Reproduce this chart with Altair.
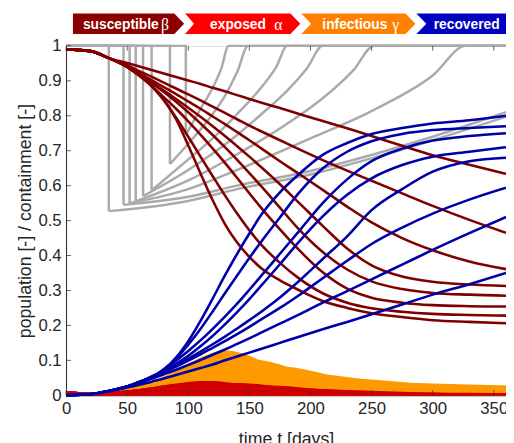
import altair as alt
import pandas as pd

# ---------------- data ----------------
days = [0, 20, 35, 50, 60, 70, 80, 90, 100, 110, 120, 130, 140, 150, 160, 175,
        190, 210, 230, 250, 275, 300, 330, 360]

susceptible = [
    [.99, .985, .965, .951, .941, .931, .921, .911, .901, .891, .88, .87, .859, .848, .837, .822, .806, .785, .764, .742, .714, .687, .66, .634],
    [.99, .985, .965, .945, .928, .912, .895, .878, .861, .844, .826, .808, .79, .772, .755, .73, .705, .673, .643, .614, .578, .542, .502, .465],
    [.99, .985, .965, .94, .921, .902, .882, .862, .841, .82, .798, .776, .753, .73, .706, .67, .635, .588, .54, .495, .45, .415, .383, .361],
    [.99, .985, .965, .94, .917, .895, .872, .848, .823, .797, .77, .742, .713, .683, .652, .604, .553, .485, .42, .372, .34, .325, .317, .313],
    [.99, .985, .965, .94, .915, .893, .868, .84, .81, .778, .745, .71, .674, .636, .597, .537, .477, .41, .36, .326, .304, .293, .288, .285],
    [.99, .985, .965, .94, .915, .885, .853, .82, .784, .746, .706, .665, .622, .578, .535, .475, .418, .352, .305, .279, .265, .258, .255, .254],
    [.99, .985, .965, .94, .915, .885, .845, .795, .74, .683, .627, .572, .52, .472, .43, .379, .336, .292, .265, .249, .239, .233, .23, .228],
    [.99, .985, .965, .94, .915, .885, .845, .79, .715, .635, .558, .49, .437, .396, .363, .329, .302, .27, .25, .235, .224, .215, .21, .206],
]

exposed = [
    [.012, .008, .010, .007, .006, .006, .006, .006, .006, .006, .006, .006, .006, .006, .006, .006, .006, .006, .005, .005, .005, .005, .005, .005],
    [.012, .008, .010, .011, .009, .009, .009, .009, .009, .009, .009, .009, .009, .009, .009, .009, .009, .009, .008, .008, .007, .007, .006, .006],
    [.012, .008, .010, .014, .012, .012, .012, .012, .012, .012, .013, .013, .013, .013, .013, .013, .013, .012, .011, .01, .009, .008, .007, .006],
    [.012, .008, .010, .014, .013, .013, .014, .014, .015, .015, .016, .016, .017, .017, .018, .018, .018, .017, .015, .013, .01, .007, .005, .003],
    [.012, .008, .010, .014, .018, .016, .016, .017, .017, .018, .019, .019, .02, .021, .021, .022, .021, .018, .014, .011, .007, .004, .003, .002],
    [.012, .008, .010, .014, .018, .023, .021, .022, .023, .024, .025, .026, .027, .028, .028, .027, .023, .017, .012, .008, .005, .003, .002, .001],
    [.012, .008, .010, .014, .018, .023, .029, .031, .033, .034, .035, .035, .035, .034, .031, .025, .018, .011, .007, .004, .002, .001, .001, 0],
    [.012, .008, .010, .014, .018, .023, .029, .034, .038, .041, .041, .038, .033, .027, .021, .015, .010, .006, .004, .002, .001, .001, 0, 0],
]

infectious = [
    [.006, .008, .013, .014, .014, .015, .015, .015, .015, .015, .016, .016, .016, .016, .016, .017, .017, .017, .017, .018, .018, .018, .018, .018],
    [.006, .008, .013, .018, .019, .02, .02, .021, .021, .022, .022, .023, .023, .024, .024, .025, .025, .026, .027, .027, .028, .028, .028, .027],
    [.006, .008, .013, .021, .023, .024, .025, .026, .027, .028, .029, .03, .031, .032, .033, .034, .035, .036, .037, .037, .036, .034, .031, .028],
    [.006, .008, .013, .021, .025, .027, .029, .031, .033, .035, .037, .039, .041, .043, .045, .047, .049, .05, .049, .045, .038, .03, .022, .016],
    [.006, .008, .013, .021, .029, .03, .032, .035, .038, .041, .044, .047, .05, .053, .056, .06, .062, .06, .052, .042, .03, .02, .012, .007],
    [.006, .008, .013, .021, .029, .040, .045, .05, .055, .06, .065, .07, .075, .079, .082, .083, .077, .062, .045, .032, .02, .012, .007, .004],
    [.006, .008, .013, .021, .029, .040, .054, .066, .077, .086, .093, .098, .102, .103, .1, .088, .07, .048, .032, .021, .012, .007, .004, .002],
    [.006, .008, .013, .021, .029, .040, .054, .071, .090, .108, .122, .128, .124, .113, .098, .076, .057, .038, .025, .016, .010, .006, .004, .002],
]

recovered = [
    [0, .003, .012, .022, .03, .039, .048, .058, .068, .078, .088, .1, .111, .122, .133, .15, .167, .189, .21, .232, .26, .288, .318, .35],
    [0, .003, .012, .025, .035, .047, .06, .073, .087, .101, .116, .131, .147, .163, .18, .205, .23, .265, .298, .332, .374, .416, .464, .51],
    [0, .003, .012, .025, .038, .051, .066, .082, .099, .117, .136, .155, .175, .196, .218, .25, .285, .335, .385, .433, .48, .52, .56, .594],
    [0, .003, .012, .025, .038, .052, .068, .086, .105, .125, .146, .168, .191, .215, .24, .28, .325, .39, .455, .53, .59, .64, .67, .68],
    [0, .003, .012, .025, .038, .054, .07, .09, .113, .14, .17, .203, .238, .275, .315, .375, .437, .512, .574, .621, .659, .683, .697, .71],
    [0, .003, .012, .025, .038, .052, .074, .099, .127, .157, .19, .225, .262, .302, .343, .405, .467, .55, .618, .67, .706, .729, .742, .75],
    [0, .003, .012, .025, .038, .052, .074, .104, .145, .19, .24, .292, .343, .393, .441, .509, .577, .649, .697, .727, .748, .759, .765, .77],
    [0, .003, .012, .025, .038, .052, .074, .108, .155, .213, .277, .343, .405, .463, .518, .581, .631, .688, .722, .748, .765, .778, .787, .80],
]

# containment: start day, level reached right after the drop, then the recovery path
cont_start = [35, 47, 52, 57, 63, 70, 85, 98]
cont_low = [.527, .545, .55, .555, .57, .586, .662, .745]
cont_rise_t = [
    [100, 140, 200, 252, 300, 360],
    [100, 140, 200, 252, 300, 360],
    [100, 140, 200, 252, 300, 327, 360],
    [100, 140, 180, 210, 235, 252, 360],
    [100, 140, 160, 181, 197, 210, 360],
    [100, 120, 140, 160, 172, 181, 360],
    [100, 120, 130, 140, 149, 360],
    [110, 120, 127, 133, 360],
]
cont_rise_c = [
    [.556, .59, .632, .68, .73, .797],
    [.568, .60, .642, .69, .74, .81],
    [.59, .645, .735, .817, .915, 1, 1],
    [.615, .69, .775, .85, .93, 1, 1],
    [.645, .745, .805, .872, .935, 1, 1],
    [.675, .735, .805, .882, .94, 1, 1],
    [.72, .805, .857, .925, 1, 1],
    [.82, .88, .935, 1, 1],
]

header_labels = ["susceptible", "exposed", "infectious", "recovered"]
header_greek = ["\u03b2", "\u03b1", "\u03b3", ""]
header_colors = ["#8c0000", "#ff0000", "#ff8000", "#0000c0"]

x_ticks = [0, 50, 100, 150, 200, 250, 300, 350]
y_ticks = [0, 0.1, 0.2, 0.3, 0.4, 0.5, 0.6, 0.7, 0.8, 0.9, 1]

# ---------------- layout constants (header banner placement, in day / value units) ----
hdr_top, hdr_mid, hdr_bot = 1.093, 1.0634, 1.0338
hdr_left = [5.6, 97.4, 192.5, 286.7]      # left corners
hdr_notch = [5.6, 104.7, 200.5, 294.8]    # left notch point
hdr_right = [88.6, 183.6, 277.8, 372.9]   # right corners
hdr_tip = [96.6, 191.7, 285.9, 380.9]     # arrow tip
hdr_text_x = [44.8, 140.7, 236.3, 327.8]
hdr_greek_x = [81.0, 173.8, 269.8, 0]

# ---------------- tables ----------------
rows = []
for k in range(len(susceptible)):
    for i, t in enumerate(days):
        rows.append(dict(scen=k, t=t, S=susceptible[k][i], E=exposed[k][i],
                         I=infectious[k][i], R=recovered[k][i]))
df = pd.DataFrame(rows)

pre_rows, rise_rows = [], []
for k, t0 in enumerate(cont_start):
    pre_rows += [dict(scen=k, t=0, S=1.0, o=0), dict(scen=k, t=t0, S=1.0, o=1),
                 dict(scen=k, t=t0, S=cont_low[k], o=2)]
    rise_rows.append(dict(scen=k, t=t0, S=cont_low[k]))
    for tt, cc in zip(cont_rise_t[k], cont_rise_c[k]):
        rise_rows.append(dict(scen=k, t=tt, S=cc))
df_pre = pd.DataFrame(pre_rows)
df_rise = pd.DataFrame(rise_rows)

hdr_rows = []
for j, lab in enumerate(header_labels):
    hdr_rows += [dict(seg=lab, S=hdr_bot, t=hdr_left[j], x2=hdr_right[j]),
                 dict(seg=lab, S=hdr_mid, t=hdr_notch[j], x2=hdr_tip[j]),
                 dict(seg=lab, S=hdr_top, t=hdr_left[j], x2=hdr_right[j])]
df_hdr = pd.DataFrame(hdr_rows)
df_hdr_text = pd.DataFrame(dict(label=header_labels, t=hdr_text_x, S=[hdr_mid] * 4))
df_hdr_greek = pd.DataFrame(dict(label=header_greek[:3], t=hdr_greek_x[:3], S=[hdr_mid] * 3))
df_xt = pd.DataFrame(dict(t=x_ticks))
df_yt = pd.DataFrame(dict(S=y_ticks))

# ---------------- chart ----------------
AX = "#262626"
xs = alt.Scale(domain=[0, 360], nice=False, zero=False)
ys = alt.Scale(domain=[0, 1], nice=False, zero=False)

x_axis = alt.Axis(
    values=x_ticks, title="time t [days]", tickSize=0, labelPadding=6, titlePadding=14,
    grid=False, labelFontSize=17, titleFontSize=18, labelColor=AX, titleColor=AX,
    domainColor=AX, titleFontWeight="normal", labelFont="Liberation Sans",
    titleFont="Liberation Sans", labelFlush=False, labelOverlap=False)
y_axis = alt.Axis(
    values=y_ticks, format="~g", title="population [-] / containment [-]", tickSize=0,
    labelPadding=5, titlePadding=3, grid=False, labelFontSize=17, titleFontSize=18,
    labelColor=AX, titleColor=AX, domainColor=AX, titleFontWeight="normal",
    labelFont="Liberation Sans", titleFont="Liberation Sans", labelFlush=False,
    labelOverlap=False)


def X(field="t:Q", **kw):
    return alt.X(field, scale=xs, axis=x_axis, **kw)


def Y(field, **kw):
    return alt.Y(field, scale=ys, axis=y_axis, **kw)


gray_pre = alt.Chart(df_pre).mark_line(color="#aaaaaa", strokeWidth=2.5).encode(
    x=X(), y=Y("S:Q"), detail="scen:N", order="o:Q")
gray_rise = alt.Chart(df_rise).mark_line(color="#aaaaaa", strokeWidth=2.5, interpolate="monotone").encode(
    x=X(), y=Y("S:Q"), detail="scen:N")

inf_area = alt.Chart(df).mark_area(color="#ff9900", interpolate="monotone", opacity=1).encode(
    x=X(), y=Y("I:Q", stack=None), detail="scen:N")
exp_area = alt.Chart(df).mark_area(color="#cc0000", interpolate="monotone", opacity=1).encode(
    x=X(), y=Y("E:Q", stack=None), detail="scen:N")
sus_line = alt.Chart(df).mark_line(color="#800000", strokeWidth=2.6, interpolate="monotone").encode(
    x=X(), y=Y("S:Q"), detail="scen:N")
rec_line = alt.Chart(df).mark_line(color="#0000aa", strokeWidth=2.6, interpolate="monotone").encode(
    x=X(), y=Y("R:Q"), detail="scen:N")

ytick = alt.Chart(df_yt).mark_tick(color=AX, thickness=1, size=5).encode(
    y=Y("S:Q"), x=alt.value(2.5))
xtick_top = alt.Chart(df_xt).mark_tick(color=AX, thickness=1, size=5).encode(
    x=X(), y=alt.value(2.5))
xtick_bot = alt.Chart(df_xt).mark_tick(color=AX, thickness=1, size=5).encode(
    x=X(), y=alt.value(352.5))

hdr = alt.Chart(df_hdr).mark_area(orient="horizontal", clip=False, opacity=1).encode(
    y=Y("S:Q"),
    x=X("t:Q", stack=None),
    x2="x2:Q",
    color=alt.Color("seg:N", scale=alt.Scale(domain=header_labels, range=header_colors), legend=None),
    detail="seg:N")
hdr_text = alt.Chart(df_hdr_text).mark_text(
    color="white", fontWeight="bold", fontSize=14, font="Liberation Sans",
    baseline="middle", align="center", clip=False, dy=1).encode(
    x=X(), y=Y("S:Q"), text="label:N")
hdr_greek = alt.Chart(df_hdr_greek).mark_text(
    color="white", fontSize=16, font="Liberation Serif",
    baseline="middle", align="center", clip=False, dy=1).encode(
    x=X(), y=Y("S:Q"), text="label:N")

chart = alt.layer(
    gray_pre, gray_rise, inf_area, exp_area, sus_line, rec_line,
    ytick, xtick_top, xtick_bot, hdr, hdr_text, hdr_greek
).properties(
    width=447, height=355,
    autosize=alt.AutoSizeParams(type="none"),
    padding={"left": 59, "top": 35, "right": 0, "bottom": 45},
).configure_view(stroke=None).configure(font="Liberation Sans")

chart.save("out.html", embed_options={"renderer": "svg", "actions": False})
